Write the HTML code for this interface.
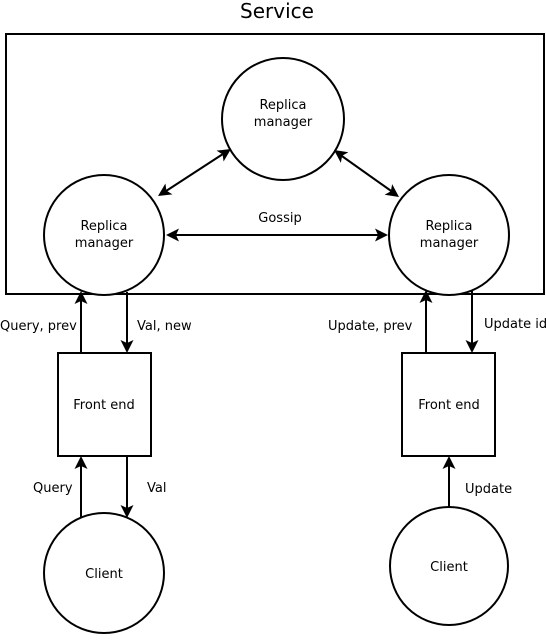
<!DOCTYPE html>
<html><head><meta charset="utf-8"><style>html,body{margin:0;padding:0;background:#fff}
text{font-family:"DejaVu Sans","Liberation Sans",sans-serif;font-size:13px}
.t{font-size:20px}</style></head><body>
<svg width="546" height="635" xmlns="http://www.w3.org/2000/svg">
<defs><path id="h" d="M0,0 L-13,-6.5 L-10,0 L-13,6.5 z" fill="#000"/></defs>
<g stroke="#000" stroke-width="2" fill="none">
<rect x="6" y="34" width="538" height="260"/>
<circle cx="283" cy="119" r="61" fill="#fff"/>
<circle cx="104" cy="235" r="60" fill="#fff"/>
<circle cx="449" cy="235" r="60" fill="#fff"/>
<rect x="58" y="353" width="93" height="103" fill="#fff"/>
<rect x="402" y="353" width="93" height="103" fill="#fff"/>
<circle cx="104" cy="573" r="60"/>
<circle cx="449" cy="566" r="59"/>
<line x1="163" y1="193" x2="226" y2="152"/>
<line x1="339" y1="154" x2="394" y2="193"/>
<line x1="172" y1="235" x2="382" y2="235"/>
<line x1="81" y1="353" x2="81" y2="298"/>
<line x1="127" y1="292" x2="127" y2="346"/>
<line x1="81" y1="518" x2="81" y2="463"/>
<line x1="127" y1="457" x2="127" y2="511"/>
<line x1="426" y1="353" x2="426" y2="297"/>
<line x1="472" y1="291" x2="472" y2="346"/>
<line x1="449" y1="507" x2="449" y2="463"/>
</g>
<use href="#h" transform="translate(231,149) rotate(-32.8)"/>
<use href="#h" transform="translate(158,196) rotate(147.2)"/>
<use href="#h" transform="translate(399,197) rotate(35.3)"/>
<use href="#h" transform="translate(334,150) rotate(-144.7)"/>
<use href="#h" transform="translate(166,235) rotate(180)"/>
<use href="#h" transform="translate(388,235)"/>
<use href="#h" transform="translate(81,291) rotate(-90)"/>
<use href="#h" transform="translate(127,353) rotate(90)"/>
<use href="#h" transform="translate(81,456) rotate(-90)"/>
<use href="#h" transform="translate(127,518) rotate(90)"/>
<use href="#h" transform="translate(426,290) rotate(-90)"/>
<use href="#h" transform="translate(472,353) rotate(90)"/>
<use href="#h" transform="translate(449,456) rotate(-90)"/>
<g fill="#000" text-anchor="middle">
<text class="t" x="277" y="18">Service</text>
<text x="283" y="109">Replica</text><text x="283" y="126">manager</text>
<text x="104" y="230">Replica</text><text x="104" y="247">manager</text>
<text x="449" y="230">Replica</text><text x="449" y="247">manager</text>
<text x="280" y="222">Gossip</text>
<text x="104" y="409">Front end</text>
<text x="449" y="409">Front end</text>
<text x="104" y="578">Client</text>
<text x="449" y="571">Client</text>
</g>
<g fill="#000">
<text x="0" y="330">Query, prev</text>
<text x="137" y="330">Val, new</text>
<text x="33" y="492">Query</text>
<text x="147" y="492">Val</text>
<text x="328" y="330">Update, prev</text>
<text x="484" y="328">Update id</text>
<text x="465" y="493">Update</text>
</g>
</svg>
</body></html>
